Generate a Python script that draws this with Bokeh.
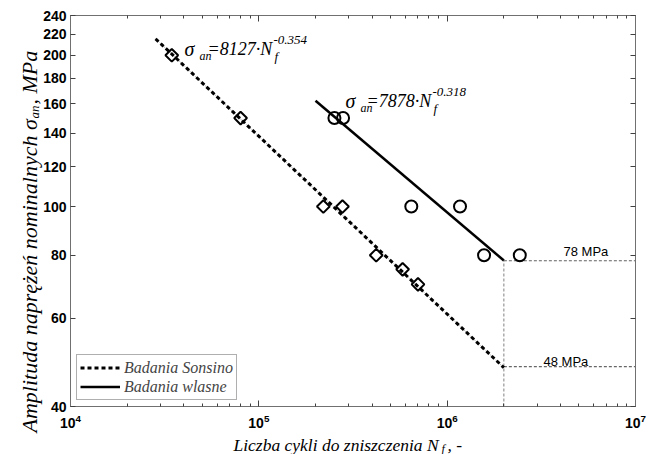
import math
from bokeh.plotting import figure
from bokeh.models import Label, FixedTicker, LogAxis, Range1d
from bokeh.embed import file_html
from bokeh.resources import INLINE

# ---------------- data ----------------
sonsino_N = [3.45e4, 8.0e4, 2.2e5, 2.78e5, 4.2e5, 5.8e5, 7.0e5]
sonsino_S = [200, 150, 100, 100, 80, 75, 70]
own_N = [2.52e5, 2.8e5, 6.45e5, 1.17e6, 1.57e6, 2.43e6]
own_S = [150, 150, 100, 100, 80, 80]
sonsino_fit_N = [2.83e4, 2.0e6]
sonsino_fit_S = [215.7, 47.8]
own_fit_N = [2.0e5, 2.0e6]
own_fit_S = [162.4, 78.1]
knee_N = [2.0e6, 2.0e6]
knee_S = [40, 78]
lim78_N = [2.0e6, 1.0e7]
lim78_S = [78, 78]
lim48_N = [2.0e6, 1.0e7]
lim48_S = [48, 48]
y_ticks = [40, 60, 80, 100, 120, 140, 160, 180, 200, 220, 240]
y_tick_labels = ["40", "60", "80", "100", "120", "140", "160", "180", "200", "220", "240"]
x_ticks = [1e4, 1e5, 1e6, 1e7]

# ---------------- layout helpers ----------------
W, H = 659, 454
L, R, T, B = 70, 635, 15, 406
def px2x(px):
    return 10 ** (4 + 3 * (px - L) / (R - L))
def py2y(py):
    return 40 * 6 ** ((B - py) / (B - T))

p = figure(x_axis_type="log", y_axis_type="log",
           x_range=Range1d(1e4, 1e7), y_range=Range1d(40, 240),
           frame_width=R - L, frame_height=B - T,
           min_border_left=L, min_border_right=W - R, min_border_top=T, min_border_bottom=H - B,
           output_backend="svg", toolbar_location=None)
p.background_fill_color = "white"
p.border_fill_color = "white"
p.outline_line_color = "#707070"
p.xgrid.visible = False
p.ygrid.visible = False

minor = [m * 10 ** e for e in range(4, 7) for m in range(2, 10)]
xt = FixedTicker(ticks=x_ticks, minor_ticks=minor)
yt = FixedTicker(ticks=y_ticks, minor_ticks=[])
overrides = {t: s for t, s in zip(y_ticks, y_tick_labels)}

def style_axis(ax, labels=True):
    ax.axis_line_color = "#707070"
    ax.major_tick_line_color = "#404040"
    ax.minor_tick_line_color = "#404040"
    ax.major_tick_in = 5
    ax.major_tick_out = 0
    ax.minor_tick_in = 3
    ax.minor_tick_out = 0
    ax.major_label_text_font = "Liberation Sans"
    ax.major_label_text_font_style = "bold"
    if labels:
        ax.major_label_text_font_size = "14px"
        ax.major_label_text_color = "black"
    else:
        ax.major_label_text_font_size = "1px"
        ax.major_label_text_alpha = 0

xa = p.xaxis[0]
xa.ticker = xt
style_axis(xa)
xa.major_tick_in = 6
xa.major_label_standoff = 7
ya = p.yaxis[0]
ya.ticker = yt
ya.major_label_overrides = overrides
style_axis(ya)
ya.major_label_standoff = 4

top = LogAxis(ticker=FixedTicker(ticks=x_ticks, minor_ticks=minor))
style_axis(top, labels=False)
top.major_tick_in = 6
top.major_label_standoff = 0
p.add_layout(top, "above")
right = LogAxis(ticker=FixedTicker(ticks=y_ticks, minor_ticks=[]))
style_axis(right, labels=False)
right.major_label_standoff = 0
p.add_layout(right, "right")

# ---------------- reference lines ----------------
p.line(knee_N, knee_S, line_color="#808080", line_width=1, line_dash="3 2")
p.line(lim78_N, lim78_S, line_color="#606060", line_width=1, line_dash="3 2")
p.line(lim48_N, lim48_S, line_color="#404040", line_width=1, line_dash="3 2")

# ---------------- fit lines ----------------
p.line(sonsino_fit_N, sonsino_fit_S, line_color="#a0a0a0", line_width=1, line_dash="1 1")
p.line(sonsino_fit_N, sonsino_fit_S, line_color="black", line_width=3, line_dash="4 3",
       legend_label="Badania Sonsino")
p.line(own_fit_N, own_fit_S, line_color="black", line_width=2.5, legend_label="Badania wlasne")

# ---------------- points ----------------
p.scatter(sonsino_N, sonsino_S, marker="square", angle=math.pi / 4, size=9,
          line_color="black", line_width=2, fill_alpha=0)
p.scatter(own_N, own_S, marker="circle", size=12,
          line_color="black", line_width=2, fill_alpha=0)

# ---------------- legend ----------------
lg = p.legend[0]
lg.location = "bottom_left"
lg.margin = 6
lg.padding = 3
lg.spacing = 0
lg.glyph_width = 40
lg.glyph_height = 19
lg.label_height = 19
lg.label_standoff = 4
lg.label_text_font = "Liberation Serif"
lg.label_text_font_style = "italic"
lg.label_text_font_size = "16px"
lg.border_line_color = "#606060"
lg.border_line_width = 1

# ---------------- texts ----------------
SERIF = "Liberation Serif"
def lab(px, py, text, size, angle=0.0, font=SERIF, style="italic", place="center"):
    p.add_layout(Label(x=px2x(px), y=py2y(py), text=text, text_font=font,
                       text_font_style=style, text_font_size=f"{size}px",
                       text_color="black", angle=angle, text_align="left",
                       text_baseline="alphabetic"), place)

# equation 1
lab(184, 48, "σ", 20)
lab(199, 55, "an", 12)
lab(207, 48, "=8127·N", 18)
lab(273, 39, "-0.354", 13)
lab(274, 56, "f", 13)
# equation 2
lab(345, 100, "σ", 20)
lab(360, 107, "an", 12)
lab(366, 100, "=7878·N", 18)
lab(432, 91, "-0.318", 13)
lab(433, 108, "f", 13)

# limit texts
lab(563, 251, "78 MPa", 13, font="Liberation Sans", style="normal")
lab(543, 361, "48 MPa", 13, font="Liberation Sans", style="normal")

# x axis label
lab(233, 444, "Liczba cykli do zniszczenia N", 17.5, place="below")
lab(441, 448, "f", 12, place="below")
lab(447, 444, ", -", 17.5, place="below")

# y axis label (rotated)
rot = math.pi / 2
lab(29, 432, "Amplituda naprężeń nominalnych σ", 22, angle=rot, place="below")
lab(34, 118, "an", 13, angle=rot, place="below")
lab(29, 104, " , MPa", 22, angle=rot, place="below")

open("out.html", "w").write(file_html(p, INLINE))
